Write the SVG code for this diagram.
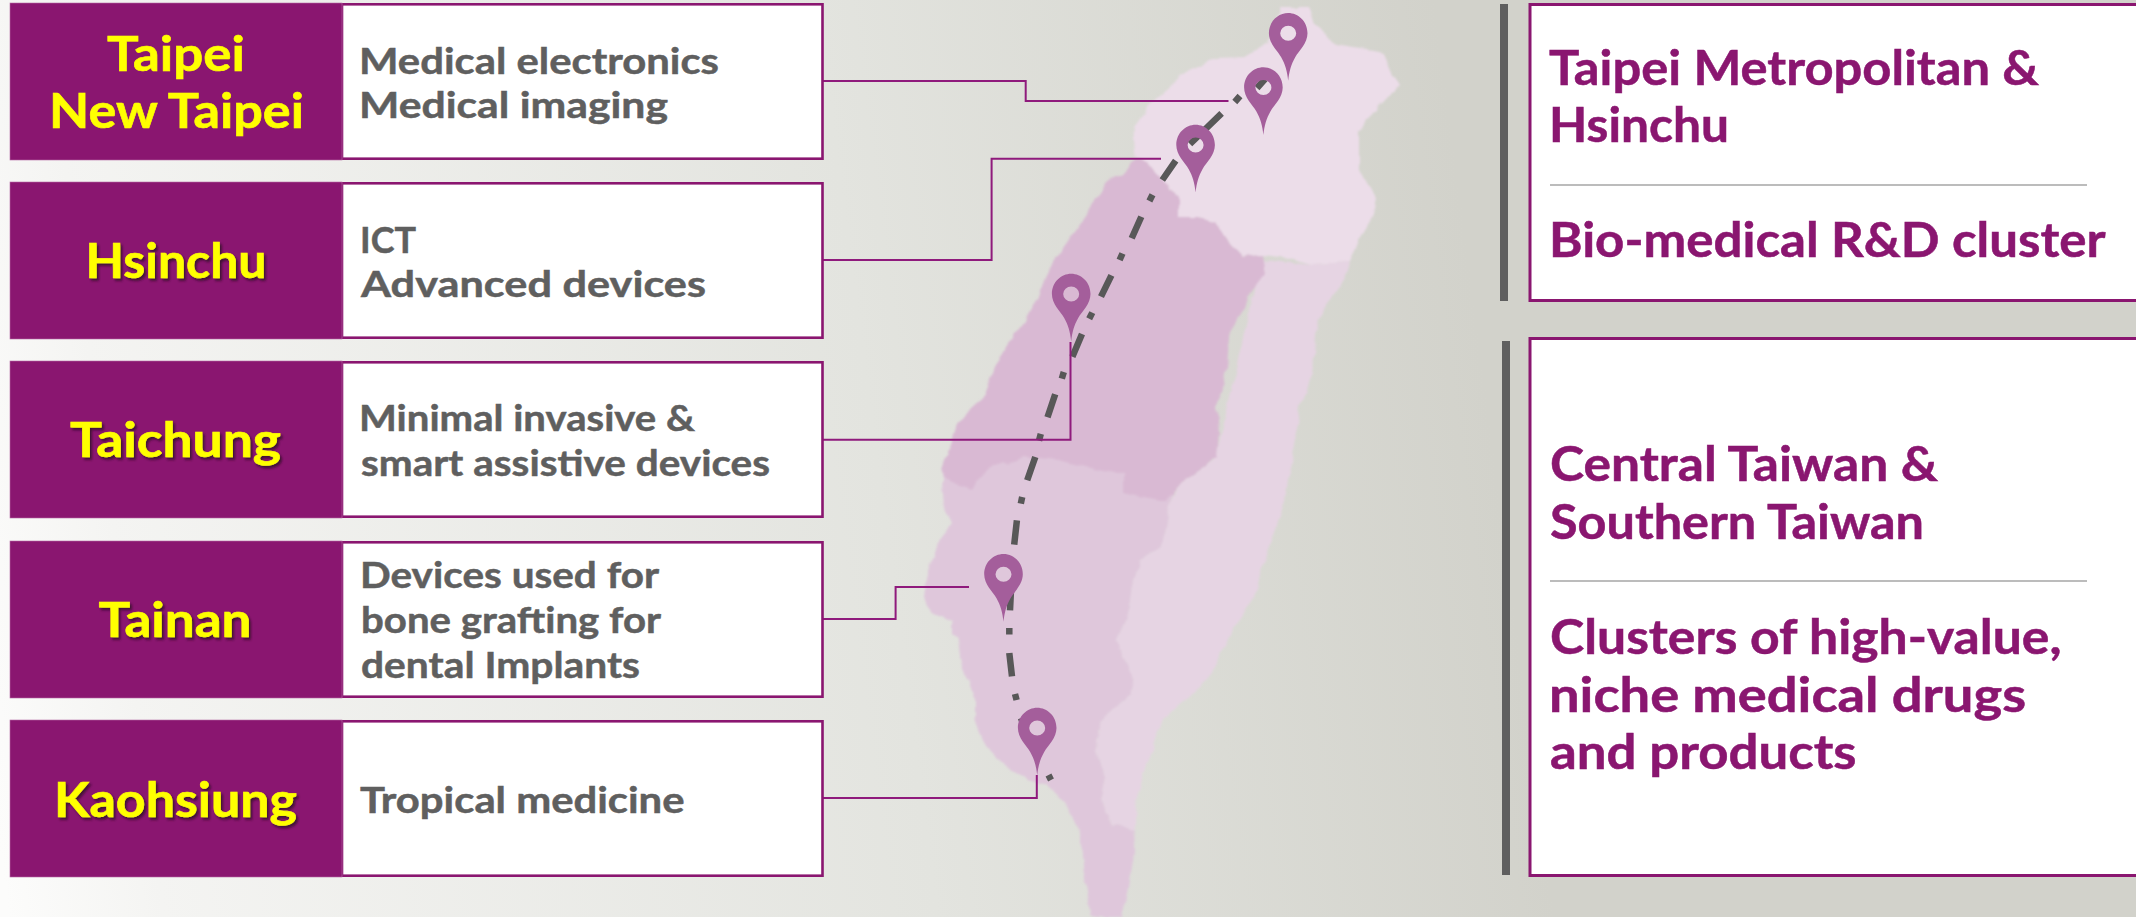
<svg xmlns="http://www.w3.org/2000/svg" width="2136" height="917" viewBox="0 0 2136 917">
<style>
text{font-family:"Lato","Liberation Sans",Arial,sans-serif;font-weight:700}
.city{fill:#ffff00;stroke:#ffff00;stroke-width:.6;font-size:48px}
.desc{fill:#5f5f5f;stroke:#5f5f5f;stroke-width:.5;font-size:37px}
.head{fill:#8a1670;stroke:#8a1670;stroke-width:.5;font-size:47px}
.tag{fill:#8a1670;stroke:#b56aa6;stroke-width:.6}
.body{fill:#fff;stroke:#8a1670;stroke-width:2.6}
.rbox{fill:#fff;stroke:#8a1670;stroke-width:3}
.bar{fill:#5f5f5f}
.rule{stroke:#a6a6a6;stroke-width:1.5;fill:none}
.con{fill:none;stroke:#8f1a7c;stroke-width:2}
.route{fill:none;stroke:#585858;stroke-width:6.5}
.pin{fill:#a45e9b;fill-rule:evenodd}
</style>
<defs>
<linearGradient id="bg" gradientUnits="userSpaceOnUse" x1="0" y1="850" x2="1520" y2="650">
<stop offset="0" stop-color="#fcfcfb"/>
<stop offset=".1" stop-color="#f4f4f2"/>
<stop offset=".6" stop-color="#e3e4df"/>
<stop offset="1" stop-color="#d2d2cb"/>
</linearGradient>
<filter id="shadow" x="-10%" y="-10%" width="125%" height="130%"><feDropShadow dx="2" dy="2.5" stdDeviation="1.2" flood-color="#2d0826" flood-opacity=".8"/></filter>
<filter id="soft" x="-5%" y="-5%" width="110%" height="110%"><feTurbulence type="fractalNoise" baseFrequency=".07" numOctaves="2" seed="4" result="n"/><feDisplacementMap in="SourceGraphic" in2="n" scale="7" xChannelSelector="R" yChannelSelector="G" result="d"/><feGaussianBlur in="d" stdDeviation="1"/></filter>
<path id="pinshape" d="M0,47.5C-1,38-3,31-7,24C-11,17-19.3,10-19.3,0C-19.3,-12-10,-20.3 0,-20.3C10,-20.3 19.3,-12 19.3,0C19.3,10 11,17 7,24C3,31 1,38 0,47.5ZM-8,0A8,7.5 0 1 0 8,0A8,7.5 0 1 0 -8,0Z"/>
</defs>
<rect width="2136" height="917" fill="url(#bg)"/>

<g id="map" filter="url(#soft)">
<path id="region-south" fill="#dfc7db" d="M942,470L942,482L944,507L952,524L936.5,544L927,574L923,597L933,614L952,620L952,634L959.5,644L961.4,660L967,677L975,700L975,720L986,747L1005.4,767L1028,780L1047.5,785L1066.6,807L1080,834L1084,874L1091.5,914L1097,917L1122,917L1128,894L1133.6,857L1134.8,830L1112.6,824L1101,797L1105,777L1097,750L1101,720L1112.6,707L1131.7,694L1133.6,677L1124,657L1117,640L1128,614L1131.7,590L1139.4,560L1162,547L1166,524L1170,504L1180,470L1100,450L1000,450Z"/>
<path id="region-east" fill="#e6d4e3" d="M1262,260L1311.6,265L1350,263L1346,277L1325,307L1315,333L1313.5,367L1300,407L1292.4,447L1292.4,460L1285,497L1277,527L1262,567L1258,590L1231,634L1208,680L1162,720L1145,767L1135.5,807L1134.8,830L1112.6,824L1101,797L1105,777L1097,750L1101,720L1112.6,707L1131.7,694L1133.6,677L1124,657L1117,640L1128,614L1131.7,590L1139.4,560L1162,547L1166,524L1170,504L1177.6,485L1204.4,467L1214,460Z"/>
<path id="region-north" fill="#ecdde9" d="M1281,8L1308,8L1315,23L1325,33L1334.5,45L1354,48L1384,53L1388,67L1400,85L1388,97L1373,113L1359,133L1359,167L1369,187L1377,198L1373,217L1357.5,243L1350,263L1311.6,265L1281,257L1262,255L1243,257L1227,240L1216,222L1197,218L1178,218L1178,197L1162,180L1143,160L1135.5,157L1133.6,133L1149,105L1166,90L1189,70L1216,58L1246.5,57L1269.5,43L1277,20Z"/>
<path id="region-central" fill="#d9b9d3" d="M1124,172L1135.5,160L1143,160L1162,180L1178,197L1178,218L1197,218L1216,222L1227,240L1243,257L1262,255L1265,273L1250,293L1246.5,307L1237,317L1229,337L1227,367L1223.6,390L1216,407L1218,433L1216,457L1204.4,467L1177.6,485L1166,502L1124,494L1124,474L1097,470L1059,460L1028,457L990,467L971,489L944,480L942,470L946,457L954,430L971,407L982.5,397L992,373L1003.5,350L1024.5,320L1038,297L1049,267L1066.6,243L1089.6,210L1105,182Z"/>
</g>

<g id="connectors">
<path class="route" d="M1265,79L1257,88M1240,96L1234.8,102M1221.6,113.3L1190,144M1175.7,160.7L1162.3,180M1152.5,194.8L1149.4,201M1141.3,216.7L1131.7,238.3M1122.5,253.5L1119.6,260M1111.4,275.3L1101,296.7M1092.3,312.6L1089.2,318.8M1082,334L1072.4,356.7M1063.8,372L1061.8,378.6M1055.2,394.3L1047.5,417.3M1040.8,433.9L1039,440.6M1035.3,457L1027.2,480.3M1022.2,497L1020.8,503.6M1016.9,520.3L1014.2,544.7M1012.5,562L1012,569M1011.2,586L1010,610.3M1009.3,628L1009.3,634.6M1009.3,653L1012,676.3M1015,694L1016.6,700M1021,718L1030,742M1048.5,775L1051,780"/>
<path class="con" d="M823,81H1025.7V101H1228.5"/>
<path class="con" d="M823,260H991.6V158.7H1161"/>
<path class="con" d="M823,439.7H1070.5V342"/>
<path class="con" d="M823,619H895.6V587H969"/>
<path class="con" d="M823,798H1036.8V775"/>
</g>

<g id="pins">
<use href="#pinshape" class="pin" x="1288.2" y="33.3"/>
<use href="#pinshape" class="pin" x="1263.4" y="87.5"/>
<use href="#pinshape" class="pin" x="1195.6" y="145"/>
<use href="#pinshape" class="pin" x="1071.2" y="294"/>
<use href="#pinshape" class="pin" x="1003.5" y="574.3"/>
<use href="#pinshape" class="pin" x="1037.2" y="728"/>
</g>

<g id="node-taipei">
<rect class="body" x="342" y="4.3" width="480.5" height="154.4"/>
<rect class="tag" x="10" y="3" width="332" height="157"/>
<text class="city" x="107" y="71" textLength="138" lengthAdjust="spacingAndGlyphs">Taipei</text>
<text class="city" x="49" y="128" textLength="255" lengthAdjust="spacingAndGlyphs">New Taipei</text>
<text class="desc" x="359" y="74" textLength="360" lengthAdjust="spacingAndGlyphs">Medical electronics</text>
<text class="desc" x="359" y="118" textLength="309" lengthAdjust="spacingAndGlyphs">Medical imaging</text>
</g>
<g id="node-hsinchu">
<rect class="body" x="342" y="183.3" width="480.5" height="154.4"/>
<rect class="tag" x="10" y="182" width="332" height="157"/>
<text class="city" x="85.5" y="278" textLength="181" lengthAdjust="spacingAndGlyphs" filter="url(#shadow)">Hsinchu</text>
<text class="desc" x="360" y="253" textLength="56" lengthAdjust="spacingAndGlyphs">ICT</text>
<text class="desc" x="361" y="297" textLength="345" lengthAdjust="spacingAndGlyphs">Advanced devices</text>
</g>
<g id="node-taichung">
<rect class="body" x="342" y="362.3" width="480.5" height="154.4"/>
<rect class="tag" x="10" y="361" width="332" height="157"/>
<text class="city" x="70" y="457" textLength="211" lengthAdjust="spacingAndGlyphs" filter="url(#shadow)">Taichung</text>
<text class="desc" x="359" y="431" textLength="336" lengthAdjust="spacingAndGlyphs">Minimal invasive &amp;</text>
<text class="desc" x="361" y="476" textLength="409" lengthAdjust="spacingAndGlyphs">smart assistive devices</text>
</g>
<g id="node-tainan">
<rect class="body" x="342" y="542.3" width="480.5" height="154.4"/>
<rect class="tag" x="10" y="541" width="332" height="157"/>
<text class="city" x="98.5" y="637" textLength="153" lengthAdjust="spacingAndGlyphs" filter="url(#shadow)">Tainan</text>
<text class="desc" x="360" y="588" textLength="299" lengthAdjust="spacingAndGlyphs">Devices used for</text>
<text class="desc" x="361" y="633" textLength="300" lengthAdjust="spacingAndGlyphs">bone grafting for</text>
<text class="desc" x="361" y="678" textLength="279" lengthAdjust="spacingAndGlyphs">dental Implants</text>
</g>
<g id="node-kaohsiung">
<rect class="body" x="342" y="721.3" width="480.5" height="154.4"/>
<rect class="tag" x="10" y="720" width="332" height="157"/>
<text class="city" x="54" y="817" textLength="243" lengthAdjust="spacingAndGlyphs" filter="url(#shadow)">Kaohsiung</text>
<text class="desc" x="360" y="813" textLength="324.5" lengthAdjust="spacingAndGlyphs">Tropical medicine</text>
</g>

<g id="node-north-cluster">
<rect class="bar" x="1500" y="4" width="8" height="297"/>
<rect class="rbox" x="1530" y="4.5" width="620" height="296"/>
<text class="head" x="1549" y="85" textLength="490" lengthAdjust="spacingAndGlyphs">Taipei Metropolitan &amp;</text>
<text class="head" x="1549" y="142" textLength="180" lengthAdjust="spacingAndGlyphs">Hsinchu</text>
<path class="rule" d="M1550,185H2087"/>
<text class="head" x="1549" y="257" textLength="556.5" lengthAdjust="spacingAndGlyphs">Bio-medical R&amp;D cluster</text>
</g>
<g id="node-south-cluster">
<rect class="bar" x="1502" y="341" width="8" height="534"/>
<rect class="rbox" x="1530" y="338.5" width="620" height="537"/>
<text class="head" x="1550" y="481" textLength="388" lengthAdjust="spacingAndGlyphs">Central Taiwan &amp;</text>
<text class="head" x="1550" y="539" textLength="374" lengthAdjust="spacingAndGlyphs">Southern Taiwan</text>
<path class="rule" d="M1550,581H2087"/>
<text class="head" x="1550" y="654" textLength="511.5" lengthAdjust="spacingAndGlyphs">Clusters of high-value,</text>
<text class="head" x="1549" y="712" textLength="477" lengthAdjust="spacingAndGlyphs">niche medical drugs</text>
<text class="head" x="1550" y="769" textLength="306.5" lengthAdjust="spacingAndGlyphs">and products</text>
</g>
</svg>
